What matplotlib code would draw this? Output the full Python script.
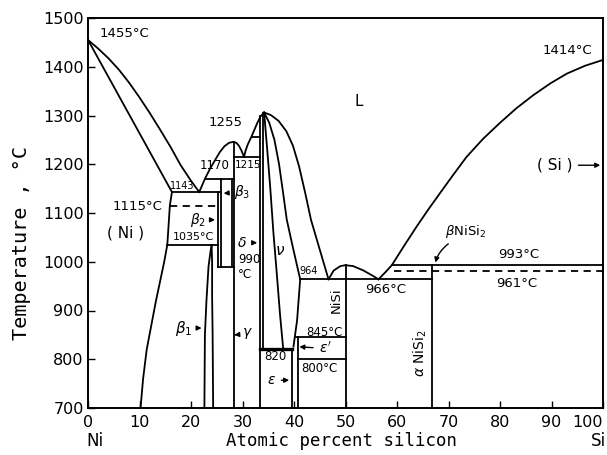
import numpy as np
import matplotlib
matplotlib.use("Agg")
import matplotlib.pyplot as plt

# ---- phase boundaries (atomic % Si, deg C) ----
ni_liq_x = [0, 2, 4, 6, 8, 10, 12, 14, 16, 18, 20, 21.6]
ni_liq_t = [1455, 1437, 1417, 1394, 1367, 1337, 1305, 1271, 1236, 1198, 1166, 1143]

ni_sol_x = [0, 16.3]
ni_sol_t = [1455, 1143]

ni_solvus_x = [16.3, 15.9, 15.4, 14.8, 14.0, 13.2, 12.3, 11.4, 10.7, 10.2]
ni_solvus_t = [1143, 1116, 1035, 1000, 960, 920, 870, 820, 760, 700]

beta1_left_x = [22.6, 22.7, 23.0, 23.4, 23.8, 24.0]
beta1_left_t = [700, 850, 920, 990, 1022, 1034]
beta1_right_x = [24.3, 24.2, 24.1, 24.1, 24.0]
beta1_right_t = [700, 850, 930, 1000, 1034]

gamma_liq_x = [21.6, 22.7, 23.7, 24.7, 25.6, 26.5, 27.4, 28.2, 28.8, 29.3, 29.8, 30.3]
gamma_liq_t = [1143, 1170, 1191, 1209, 1225, 1237, 1244, 1246, 1244, 1238, 1228, 1215]

ni2si_liq_l_x = [30.3, 30.6, 31.0, 31.8, 32.8, 33.5, 34.2]
ni2si_liq_l_t = [1215, 1228, 1240, 1258, 1283, 1298, 1306]

ni2si_liq_r_x = [34.2, 35.5, 37.0, 38.5, 39.8, 41.0, 42.2, 43.3, 45.0, 46.7]
ni2si_liq_r_t = [1306, 1301, 1289, 1268, 1238, 1195, 1140, 1086, 1025, 964]

theta_l_x = [34.2, 34.8, 35.4, 36.0, 36.7, 37.3, 37.9]
theta_l_t = [1306, 1230, 1150, 1060, 970, 890, 822]

theta_r_x = [34.2, 35.2, 36.2, 37.1, 37.9, 38.6, 39.9, 41.2, 40.6, 39.9]
theta_r_t = [1306, 1285, 1250, 1200, 1140, 1086, 1024, 964, 880, 826]

nisi_dome_x = [46.7, 47.7, 49.0, 50.0, 51.5, 53.5, 55.5, 56.4]
nisi_dome_t = [964, 982, 991, 993, 991, 982, 970, 964]

si_liq_x = [56.4, 57.7, 59.0, 61.4, 63.8, 66.0, 68.3, 70.9, 73.5, 76.7,
            80.0, 83.2, 86.5, 89.8, 93.0, 96.5, 100]
si_liq_t = [964, 978, 993, 1033, 1072, 1106, 1140, 1178, 1215, 1252,
            1285, 1315, 1342, 1366, 1386, 1402, 1414]

# isotherms: (x_start, x_end, T)
isotherms = [(16.3, 25.8, 1143), (22.7, 28.4, 1170), (28.4, 33.4, 1215),
             (31.8, 33.4, 1255), (15.4, 25.2, 1035), (25.2, 28.4, 990),
             (40.2, 50.0, 845), (40.8, 50.0, 800), (41.2, 66.7, 964),
             (59.0, 100, 993)]
dashed_isotherms = [(16.0, 25.5, 1115), (59.5, 100, 981)]
double_isotherm = (33.4, 39.7, 821)

# compounds / phase limits: (x, T_low, T_high)
verticals = [(25.2, 990, 1143), (25.8, 990, 1170), (27.9, 990, 1170),
             (28.4, 700, 1246), (33.4, 700, 1300), (34.0, 822, 1306),
             (39.6, 700, 822), (40.8, 700, 845), (50.0, 700, 993),
             (66.7, 700, 993)]

fig = plt.figure(figsize=(6.07, 4.55), dpi=100)
ax = fig.add_axes([88 / 607, 1 - 408 / 455, 515 / 607, 390 / 455])

lw = 1.3
k = 'black'
curves = [(ni_liq_x, ni_liq_t), (ni_sol_x, ni_sol_t), (ni_solvus_x, ni_solvus_t),
          (beta1_left_x, beta1_left_t), (beta1_right_x, beta1_right_t),
          (gamma_liq_x, gamma_liq_t), (ni2si_liq_l_x, ni2si_liq_l_t),
          (ni2si_liq_r_x, ni2si_liq_r_t), (theta_l_x, theta_l_t),
          (theta_r_x, theta_r_t), (nisi_dome_x, nisi_dome_t), (si_liq_x, si_liq_t)]
for xs, ts in curves:
    ax.plot(xs, ts, color=k, lw=lw, solid_joinstyle='round')

for x0, x1, t in isotherms:
    ax.plot([x0, x1], [t, t], color=k, lw=lw)
for x0, x1, t in dashed_isotherms:
    ax.plot([x0, x1], [t, t], color=k, lw=lw, ls=(0, (4, 3)))
x0, x1, t = double_isotherm
ax.plot([x0, x1], [t, t], color=k, lw=2.4)
for x, t0, t1 in verticals:
    ax.plot([x, x], [t0, t1], color=k, lw=lw)

# ---- labels ----
fs = 9.5
def lab(x, t, s, size=fs, **kw):
    ax.text(x, t, s, fontsize=size, ha='center', va='center', **kw)

lab(7.0, 1469, '1455°C')
lab(93.0, 1434, '1414°C')
lab(52.5, 1328, 'L', size=11)
lab(26.8, 1285, '1255')
lab(24.5, 1198, '1170', size=8.5)
lab(31.0, 1198, '1215', size=7.5)
lab(18.3, 1155, '1143', size=7)
lab(9.7, 1113, '1115°C')
lab(7.2, 1059, '( Ni )', size=11)
lab(20.4, 1051, '1035°C', size=8)
lab(31.3, 1005, '990', size=8.5)
lab(30.4, 973, '°C', size=8.5)
lab(42.9, 982, '964', size=7)
lab(37.3, 1024, r'$\nu$', size=11)
lab(57.7, 943, '966°C')
lab(83.7, 1014, '993°C')
lab(83.2, 956, '961°C')
lab(36.3, 805, '820', size=8.5)
lab(46.0, 855, '845°C', size=8.5)
lab(45.0, 781, '800°C', size=8.5)
lab(48.2, 921, 'NiSi', size=9.5, rotation=90)
lab(64.5, 812, r'$\alpha$ NiSi$_2$', size=10, rotation=90)
lab(73.4, 1062, r'$\beta$NiSi$_2$')

arrow = dict(arrowstyle='-|>', color=k, lw=1.0, mutation_scale=7)
ax.annotate(r'$\beta_1$', xy=(22.6, 864), xytext=(18.5, 864), fontsize=11,
            ha='center', va='center', arrowprops=arrow)
ax.annotate(r'$\beta_2$', xy=(25.2, 1086), xytext=(21.3, 1086), fontsize=10,
            ha='center', va='center', arrowprops=arrow)
ax.annotate(r'$\beta_3$', xy=(25.8, 1140), xytext=(30.0, 1143), fontsize=10,
            ha='center', va='center', arrowprops=arrow)
ax.annotate(r'$\delta$', xy=(33.4, 1039), xytext=(29.8, 1039), fontsize=10,
            ha='center', va='center', arrowprops=arrow)
ax.annotate(r'$\gamma$', xy=(28.4, 850), xytext=(30.9, 852), fontsize=10,
            ha='center', va='center', arrowprops=arrow)
ax.annotate(r'$\epsilon$', xy=(39.6, 757), xytext=(35.6, 757), fontsize=10,
            ha='center', va='center', arrowprops=arrow)
ax.annotate(r"$\epsilon'$", xy=(40.5, 826), xytext=(46.0, 822), fontsize=10,
            ha='center', va='center', arrowprops=arrow)
ax.annotate('( Si )', xy=(100, 1198), xytext=(90.7, 1198), fontsize=11,
            ha='center', va='center', arrowprops=arrow)
ax.annotate('', xy=(67.3, 993), xytext=(70.4, 1040),
            arrowprops=dict(arrowstyle='-|>', color=k, lw=1.0, mutation_scale=7,
                            connectionstyle='arc3,rad=0.2'))

# ---- axes ----
ax.set_xlim(0, 100)
ax.set_ylim(700, 1500)
ax.set_xticks(np.arange(0, 101, 10))
ax.set_yticks(np.arange(700, 1501, 100))
ax.tick_params(direction='in', length=5, width=1.0, labelsize=11.5, pad=3)
ax.tick_params(axis='x', pad=5)
ax.get_xticklabels()[-1].set_horizontalalignment('right')
for sp in ax.spines.values():
    sp.set_linewidth(1.4)

fig.text(22 / 607, 1 - 243 / 455, 'Temperature , °C', rotation=90,
         fontsize=14.5, ha='center', va='center', family='DejaVu Sans Mono')
fig.text(342 / 607, 1 - 441 / 455, 'Atomic percent silicon', fontsize=12.5,
         ha='center', va='center', family='DejaVu Sans Mono')
fig.text(95 / 607, 1 - 441 / 455, 'Ni', fontsize=12, ha='center', va='center')
fig.text(598 / 607, 1 - 441 / 455, 'Si', fontsize=12, ha='center', va='center')

fig.savefig('out.png', dpi=100)
